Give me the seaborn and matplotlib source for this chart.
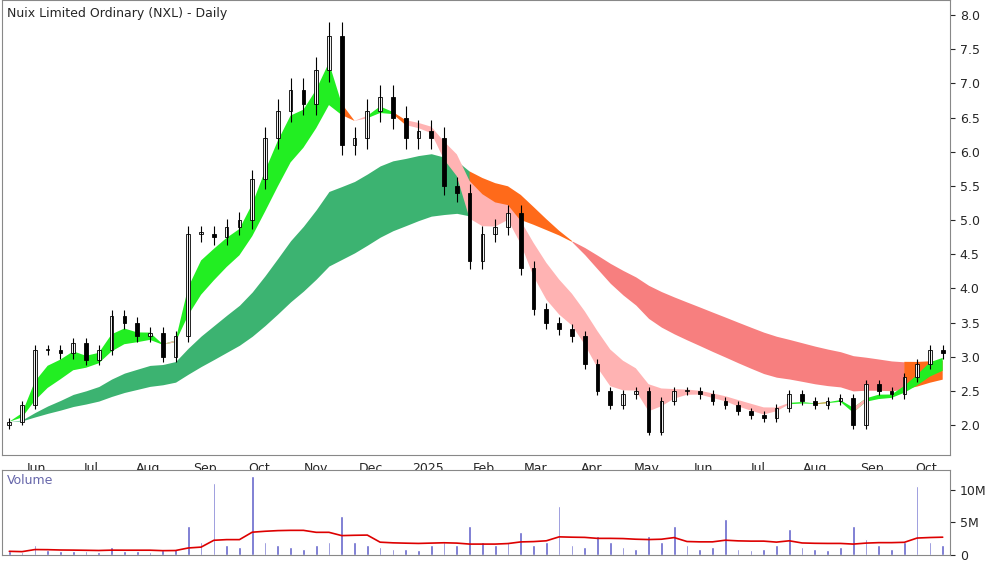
import numpy as np
import pandas as pd
import matplotlib
matplotlib.use("Agg")
import matplotlib.pyplot as plt
import seaborn as sns

# weekly closes (NXL, mid May 2024 - Oct 2025)
closes = [2.05, 2.3, 3.1, 3.1, 3.05, 3.2, 2.95, 3.1, 3.6, 3.5, 3.3, 3.35, 3.0, 3.3,
          4.8, 4.8, 4.75, 4.9, 5.0, 5.6, 6.2, 6.6, 6.9, 6.7, 7.2, 7.7, 6.1, 6.2,
          6.6, 6.8, 6.5, 6.2, 6.3, 6.2, 5.5, 5.4, 4.4, 4.8, 4.9, 5.1, 4.3, 3.7,
          3.5, 3.4, 3.3, 2.9, 2.5, 2.3, 2.45, 2.5, 1.9, 2.35, 2.5, 2.5, 2.45, 2.35,
          2.3, 2.2, 2.15, 2.1, 2.25, 2.45, 2.35, 2.3, 2.35, 2.4, 2.0, 2.6, 2.5, 2.45,
          2.7, 2.9, 3.1, 3.05]
volume_m = [0.6, 0.5, 1.5, 0.8, 0.6, 0.7, 0.6, 0.5, 1.2, 0.7, 0.6, 0.5, 0.8, 1.0,
            4.5, 2.0, 11.0, 1.5, 1.2, 12.0, 2.0, 1.5, 1.2, 1.0, 1.5, 2.0, 6.0, 2.0,
            1.5, 1.2, 1.0, 1.0, 0.8, 1.5, 2.0, 1.5, 4.5, 2.0, 1.5, 2.0, 3.5, 1.5,
            2.0, 7.5, 1.5, 1.2, 3.0, 2.0, 1.2, 1.0, 3.0, 2.0, 4.5, 1.5, 1.0, 1.2,
            5.5, 1.0, 0.8, 1.0, 1.5, 4.0, 1.2, 1.0, 0.8, 1.2, 4.5, 2.5, 1.5, 1.0,
            2.0, 10.5, 2.0, 1.5]
month_labels = ["Jun", "Jul", "Aug", "Sep", "Oct", "Nov", "Dec", "2025", "Feb", "Mar",
                "Apr", "May", "Jun", "Jul", "Aug", "Sep", "Oct"]
month_starts = pd.date_range("2024-06-01", periods=17, freq="MS")

dates = pd.date_range("2024-05-17", periods=len(closes), freq="W-FRI")
df = pd.DataFrame({"date": dates, "close": closes, "vol": volume_m})
df["open"] = df["close"].shift(1).fillna(df["close"].iloc[0] - 0.05)
df["high"] = df[["open", "close"]].max(axis=1) * 1.025
df["low"] = df[["open", "close"]].min(axis=1) * 0.975

s1 = df["close"].ewm(span=3, adjust=False).mean()
s2 = df["close"].ewm(span=7, adjust=False).mean()
l1 = df["close"].ewm(span=18, adjust=False).mean()
l2 = df["close"].ewm(span=36, adjust=False).mean()
s_top, s_bot = np.maximum(s1, s2), np.minimum(s1, s2)
l_top, l_bot = np.maximum(l1, l2), np.minimum(l1, l2)


def grow(m):
    m = pd.Series(m)
    return (m | m.shift(1, fill_value=False)).values


up_s = (s1 >= s2) & (df["close"] >= s_bot)
dn_s = (s1 < s2) & (df["close"] <= s_top)
mid_s = ~(up_s | dn_s)
up_l = (l1 >= l2) & (s_bot >= l_bot)
dn_l = (l1 < l2) & (s_top <= l_bot)
mid_l = ~(up_l | dn_l)

sns.set_style("white")
fig = plt.figure(figsize=(10, 5.62), dpi=100)
ax = fig.add_axes([0.002, 0.19, 0.948, 0.81])
axv = fig.add_axes([0.002, 0.012, 0.948, 0.152], sharex=ax)
x = df["date"]

for mask, col in [(up_l, "#3cb371"), (dn_l, "#f77f7f"), (mid_l, "#ff6a1a")]:
    ax.fill_between(x, l_bot, l_top, where=grow(mask), color=col, lw=0)
for mask, col in [(up_s, "#22ee22"), (dn_s, "#ffb3b3"), (mid_s, "#ff6a1a")]:
    ax.fill_between(x, s_bot, s_top, where=grow(mask), color=col, lw=0)

w = pd.Timedelta(days=2)
ax.vlines(x, df["low"], df["high"], color="black", lw=0.8)
body_lo = df[["open", "close"]].min(axis=1)
body_h = (df["close"] - df["open"]).abs().clip(lower=0.02)
face = np.where(df["close"] >= df["open"], "white", "black")
ax.bar(x, body_h, bottom=body_lo, width=w, color=face, edgecolor="black", lw=0.6)

ax.set_ylim(1.56, 8.22)
ax.set_xlim(pd.Timestamp("2024-05-13"), pd.Timestamp("2025-10-14"))
ax.yaxis.tick_right()
yt = np.arange(2.0, 8.01, 0.5)
ax.set_yticks(yt)
ax.set_yticklabels([f"{v:.1f}" for v in yt], fontsize=9)
ax.set_xticks(month_starts)
ax.set_xticklabels(month_labels, fontsize=9)
ax.tick_params(axis="x", length=3, pad=2)
ax.text(0.005, 0.985, "Nuix Limited Ordinary (NXL) - Daily", transform=ax.transAxes,
        fontsize=9, va="top", ha="left")
for sp in ax.spines.values():
    sp.set_color("#888888")

axv.bar(x, df["vol"], width=pd.Timedelta(days=1.5), color="#6666cc")
sns.lineplot(x=x, y=df["vol"].rolling(10, min_periods=1).mean(), ax=axv,
             color="#dd0000", lw=1.2)
axv.set_ylim(0, 13)
axv.yaxis.tick_right()
axv.set_yticks([0, 5, 10])
axv.set_yticklabels(["0", "5M", "10M"], fontsize=9)
axv.set_ylabel("")
axv.set_xlabel("")
axv.tick_params(axis="x", labelbottom=False, length=0)
axv.text(0.005, 0.95, "Volume", transform=axv.transAxes, fontsize=9, va="top",
         color="#6666aa")
for sp in axv.spines.values():
    sp.set_color("#888888")

fig.savefig("out.png", dpi=100)
